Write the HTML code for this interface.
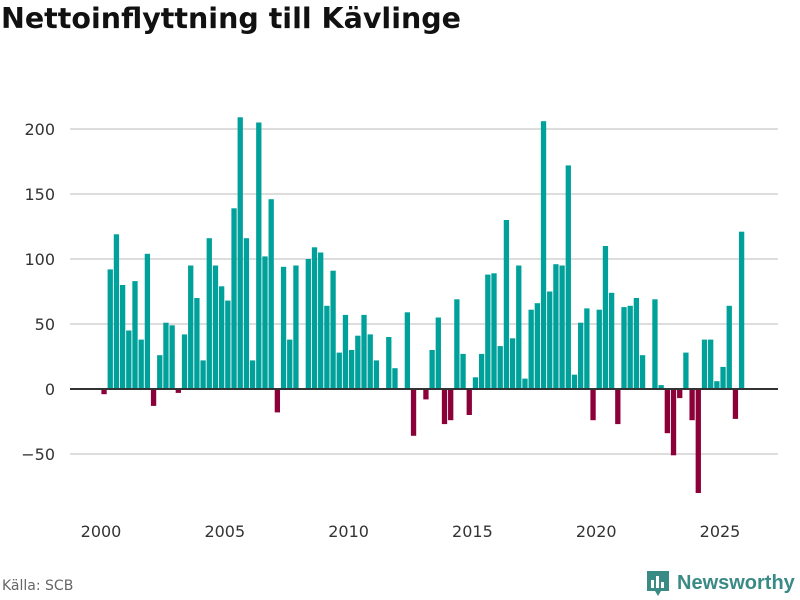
<!DOCTYPE html>
<html><head><meta charset="utf-8"><style>
body{margin:0;background:#fff;font-family:"Liberation Sans","DejaVu Sans",sans-serif;}
#wrap{position:relative;width:800px;height:600px;overflow:hidden;}
h1{position:absolute;left:1px;top:2px;margin:0;font-family:"DejaVu Sans",sans-serif;font-size:28.5px;font-weight:bold;color:#111;letter-spacing:0px;}
.src{position:absolute;left:2px;top:578px;color:#666;font-family:"DejaVu Sans",sans-serif;font-size:14px;}
.logo{position:absolute;left:645px;top:569px;display:flex;align-items:center;color:#3a8a86;font-size:20px;font-weight:bold;}
</style></head><body>
<div id="wrap">
<h1>Nettoinflyttning till Kävlinge</h1>
<svg id="chart" width="800" height="600" style="position:absolute;left:0;top:0"></svg>
<div class="src">Källa: SCB</div>
<div class="logo">
<svg width="26" height="28" viewBox="0 0 26 28"><path d="M2 2h22v20h-8l-3 5-3-5H2z" fill="#3a8a86"/><rect x="6" y="11" width="3" height="8" fill="#fff"/><rect x="11" y="7" width="3" height="12" fill="#fff"/><rect x="16" y="13" width="3" height="6" fill="#fff"/></svg>
<span style="margin-left:6px">Newsworthy</span></div>
</div>
<script>
const startYear = 2000;
const values = [
-4,92,119,80, 45,83,38,104, -13,26,51,49, -3,42,95,70, 22,116,95,79,
68,139,209,116, 22,205,102,146, -18,94,38,95, 0,100,109,105, 64,91,28,57,
30,41,57,42, 22,0,40,16, 0,59,-36,0, -8,30,55,-27, -24,69,27,-20,
9,27,88,89, 33,130,39,95, 8,61,66,206, 75,96,95,172, 11,51,62,-24,
61,110,74,-27, 63,64,70,26, 0,69,3,-34, -51,-7,28,-24, -80,38,38,6,
17,64,-23,121];
const yTicks = [-50,0,50,100,150,200];
const xTicks = [2000,2005,2010,2015,2020,2025];
const NS="http://www.w3.org/2000/svg";
const svg=document.getElementById('chart');
const y=v=>389-v*1.3;
const x=t=>101+(t-2000)*24.76;
function mk(tag,attrs){const e=document.createElementNS(NS,tag);for(const k in attrs)e.setAttribute(k,attrs[k]);svg.appendChild(e);return e;}
yTicks.forEach(v=>{
 if(v!==0){const g=mk('line',{x1:70,x2:778,y1:y(v),y2:y(v),stroke:'#ddd','stroke-width':2});
 
 }
 const t=mk('text',{x:55,y:y(v)+6,'text-anchor':'end','font-size':16,fill:'#333','font-family':'DejaVu Sans, sans-serif'});
 t.textContent=v===-50?'−50':String(v);
 
 
});
xTicks.forEach(v=>{
 const t=mk('text',{x:x(v),y:537,'text-anchor':'middle','font-size':16,fill:'#333','font-family':'DejaVu Sans, sans-serif'});
 t.textContent=v;
 
 
});
values.forEach((v,i)=>{
 if(v===0)return;
 const t=startYear+i*0.25;
 const cx=x(t)+3;
 const r=mk('rect',{x:cx-2.6,width:5.3,y:Math.min(y(v),y(0)),height:Math.abs(y(v)-y(0)),fill:v>0?'#00a19a':'#8b0038'});
 
 
});
const z=mk('line',{x1:70,x2:778,y1:y(0),y2:y(0),stroke:'#333','stroke-width':2});


</script>
</body></html>
